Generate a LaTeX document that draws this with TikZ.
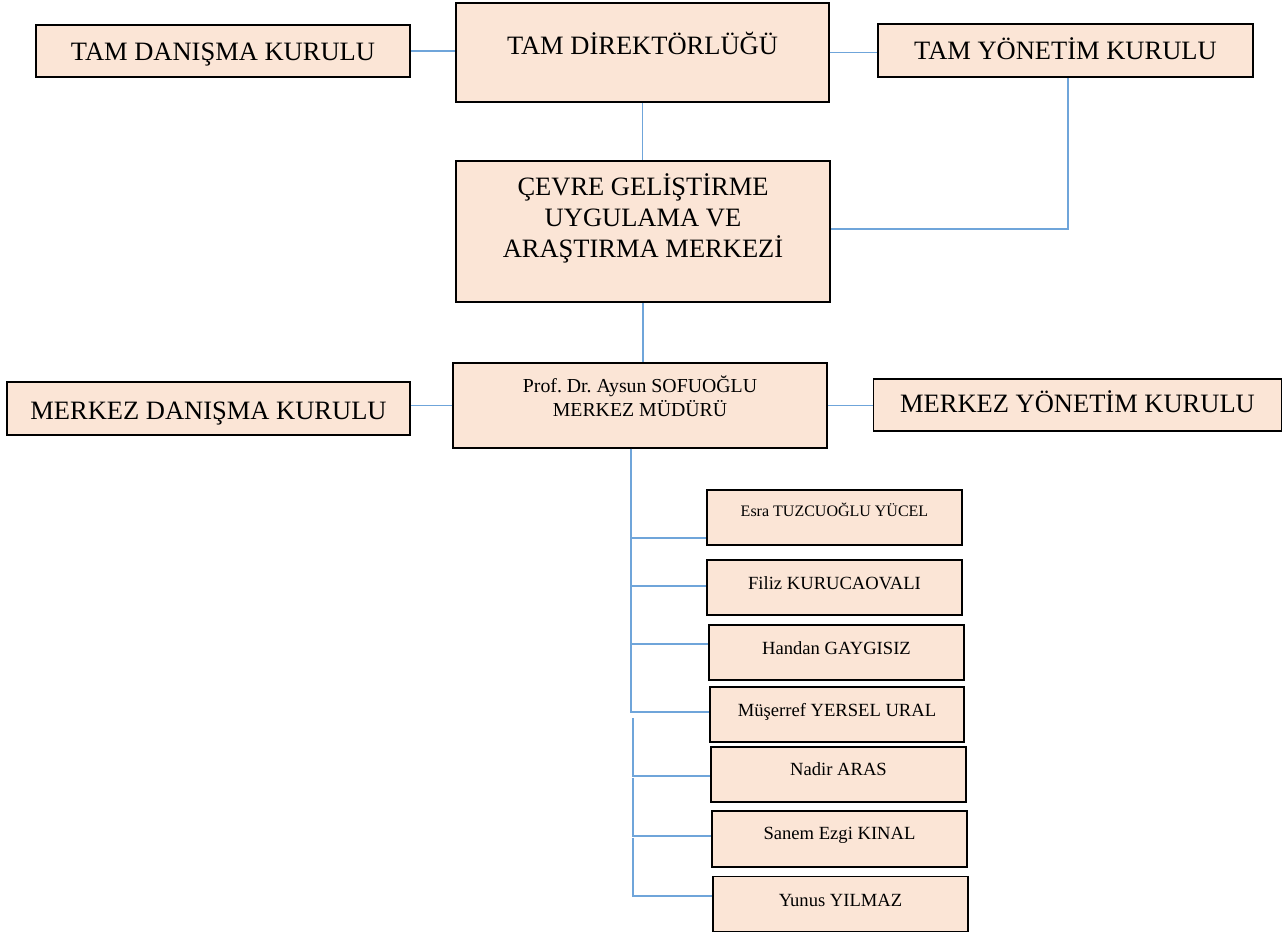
\documentclass[tikz,border=0pt]{standalone}
\usepackage{fontspec}
\setmainfont{Liberation Serif}
\frenchspacing
\definecolor{peach}{HTML}{FBE5D6}
\definecolor{connblue}{HTML}{6FA5DA}
\begin{document}
\begin{tikzpicture}[x=1pt,y=-1pt,
  box/.style={draw=black, fill=peach, line width=1.8pt, rectangle, inner sep=0pt},
  conn/.style={draw=connblue, line width=1.5pt},
  big/.style={font=\fontsize{26.5}{31}\selectfont, inner sep=0pt, anchor=base, align=center},
  mid/.style={font=\fontsize{19.8}{23.5}\selectfont, inner sep=0pt, anchor=base, align=center},
  small/.style={font=\fontsize{18.6}{22}\selectfont, inner sep=0pt, anchor=base},
  tiny/.style={font=\fontsize{16}{19}\selectfont, inner sep=0pt, anchor=base}]
\useasboundingbox (0,0) rectangle (1283,933);
% top row
\node[box, minimum width=374pt, minimum height=52pt] (tamdan) at (223,51) {};
\node[box, minimum width=373pt, minimum height=99pt] (tamdir) at (642.5,52.5) {};
\node[box, minimum width=375pt, minimum height=53pt] (tamyon) at (1065.5,50.5) {};
\node[box, minimum width=374pt, minimum height=141pt] (cevre) at (643,231.5) {};
\node[box, minimum width=374pt, minimum height=85pt] (prof) at (640,405.5) {};
\node[box, minimum width=403pt, minimum height=53pt] (mdan) at (208.5,408.5) {};
\node[box, minimum width=408pt, minimum height=52pt] (myon) at (1077.5,405) {};
% staff
\node[box, minimum width=255pt, minimum height=55pt] (esra) at (834.5,517.5) {};
\node[box, minimum width=255pt, minimum height=55pt] (filiz) at (834.5,587.5) {};
\node[box, minimum width=255pt, minimum height=55pt] (handan) at (836.5,652.5) {};
\node[box, minimum width=254pt, minimum height=55pt] (muserref) at (837,714.5) {};
\node[box, minimum width=255pt, minimum height=55pt] (nadir) at (838.5,774.5) {};
\node[box, minimum width=255pt, minimum height=56pt] (sanem) at (839.5,839) {};
\node[box, minimum width=255pt, minimum height=55pt] (yunus) at (840.5,904) {};
% texts
\node[big] (t-tamdan) at (223,61) {TAM DANIŞMA KURULU};
\node[big] (t-tamdir) at (642.5,55) {TAM DİREKTÖRLÜĞÜ};
\node[big] (t-tamyon) at (1065.5,60) {TAM YÖNETİM KURULU};
\node[big] (t-cevre1) at (643,196) {ÇEVRE GELİŞTİRME};
\node[big] (t-cevre2) at (643,226.5) {UYGULAMA VE};
\node[big] (t-cevre3) at (643,257.5) {ARAŞTIRMA MERKEZİ};
\node[mid] (t-prof1) at (640,392) {Prof. Dr. Aysun SOFUOĞLU};
\node[mid] (t-prof2) at (640,416) {MERKEZ MÜDÜRÜ};
\node[big] (t-mdan) at (208.5,419) {MERKEZ DANIŞMA KURULU};
\node[big] (t-myon) at (1077.5,413) {MERKEZ YÖNETİM KURULU};
\node[tiny] (t-esra) at (834.5,516) {Esra TUZCUOĞLU YÜCEL};
\node[small] (t-filiz) at (834.5,589) {Filiz KURUCAOVALI};
\node[small] (t-handan) at (836.5,654) {Handan GAYGISIZ};
\node[small] (t-muserref) at (837,716) {Müşerref YERSEL URAL};
\node[small] (t-nadir) at (838.5,775) {Nadir ARAS};
\node[small] (t-sanem) at (839.5,839) {Sanem Ezgi KINAL};
\node[small] (t-yunus) at (840.5,906) {Yunus YILMAZ};
% connectors
\draw[conn] (tamdan.east) -- (tamdan.east -| tamdir.west);
\draw[conn] (tamdir.east) -- (tamdir.east -| tamyon.west);
\draw[conn] (tamdir.south) -- (tamdir.south |- cevre.north);
\draw[conn] ([xshift=2.5pt]tamyon.south) |- ([yshift=2.5pt]cevre.east);
\draw[conn] (cevre.south) -- (cevre.south |- prof.north);
\draw[conn] (prof.west) -- (prof.west -| mdan.east);
\draw[conn] (prof.east) -- (prof.east -| myon.west);
\coordinate (trunk1) at ([xshift=-9pt]prof.south);
\coordinate (trunk2) at (633,718);
\coordinate (trunk3) at (633,778);
\coordinate (trunk4) at (633,838);
\draw[conn] (trunk1) |- ([yshift=-20.5pt]esra.west);
\draw[conn] (trunk1) |- ([yshift=1.5pt]filiz.west);
\draw[conn] (trunk1) |- ([yshift=8.5pt]handan.west);
\draw[conn] (trunk1) |- ([yshift=2.5pt]muserref.west);
\draw[conn] (trunk2) |- ([yshift=-1.5pt]nadir.west);
\draw[conn] (trunk3) |- ([yshift=3pt]sanem.west);
\draw[conn] (trunk4) |- ([yshift=8pt]yunus.west);
\end{tikzpicture}
\end{document}
